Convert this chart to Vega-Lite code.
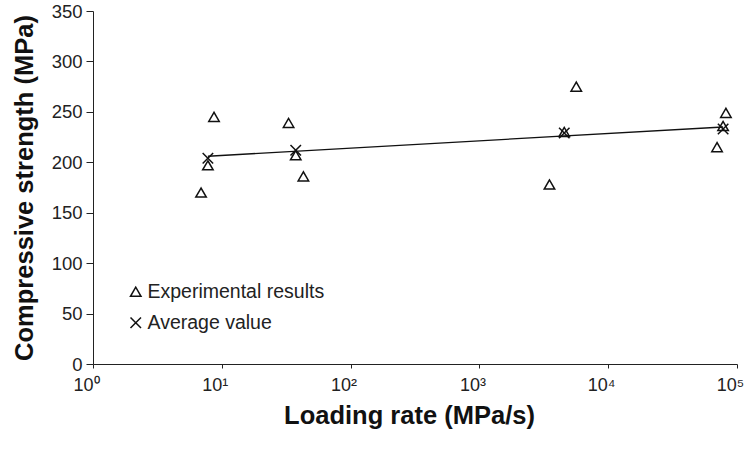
{
  "$schema": "https://vega.github.io/schema/vega-lite/v6.json",
  "autosize": "none",
  "width": 644,
  "height": 353,
  "padding": {"left": 93, "top": 11, "right": 9, "bottom": 87},
  "background": "white",
  "config": {
    "view": {"stroke": null},
    "font": "Liberation Sans",
    "axis": {"grid": false, "domainColor": "#222", "tickColor": "#222", "labelColor": "#222", "titleColor": "#111", "labelFont": "Liberation Sans", "titleFont": "Liberation Sans"}
  },
  "datasets": {
    "points": [
      {"rate": 6.9, "strength": 170, "series": "Experimental results"},
      {"rate": 7.8, "strength": 197, "series": "Experimental results"},
      {"rate": 8.7, "strength": 245, "series": "Experimental results"},
      {"rate": 33, "strength": 239, "series": "Experimental results"},
      {"rate": 37.5, "strength": 207, "series": "Experimental results"},
      {"rate": 43, "strength": 186, "series": "Experimental results"},
      {"rate": 3500, "strength": 178, "series": "Experimental results"},
      {"rate": 4560, "strength": 230, "series": "Experimental results"},
      {"rate": 5650, "strength": 275, "series": "Experimental results"},
      {"rate": 70000, "strength": 215, "series": "Experimental results"},
      {"rate": 78000, "strength": 236, "series": "Experimental results"},
      {"rate": 82000, "strength": 249, "series": "Experimental results"},
      {"rate": 7.8, "strength": 204, "series": "Average value"},
      {"rate": 37.5, "strength": 212, "series": "Average value"},
      {"rate": 4560, "strength": 229, "series": "Average value"},
      {"rate": 78000, "strength": 233, "series": "Average value"}
    ],
    "fit": [
      {"rate": 7.8, "strength": 206},
      {"rate": 78000, "strength": 235}
    ]
  },
  "layer": [
    {
      "data": {"name": "fit"},
      "mark": {"type": "line", "color": "#111", "strokeWidth": 1.3},
      "encoding": {
        "x": {"field": "rate", "type": "quantitative"},
        "y": {"field": "strength", "type": "quantitative"}
      }
    },
    {
      "data": {"name": "points"},
      "mark": {"type": "point", "filled": false, "color": "#111", "strokeWidth": 1.5, "size": 110, "opacity": 1},
      "encoding": {
        "x": {
          "field": "rate", "type": "quantitative",
          "scale": {"type": "log", "domain": [1, 100000], "nice": false},
          "axis": {
            "values": [1, 10, 100, 1000, 10000, 100000],
            "labelExpr": "datum.value == 1 ? '10⁰' : datum.value == 10 ? '10¹' : datum.value == 100 ? '10²' : datum.value == 1000 ? '10³' : datum.value == 10000 ? '10⁴' : '10⁵'",
            "labelFontSize": 18, "labelPadding": 8, "labelOffset": -7, "tickSize": 4, "tickWidth": 1, "labelFlush": false,
            "title": "Loading rate (MPa/s)", "titleFontSize": 25.5, "titleFontWeight": "bold", "titlePadding": 9, "titleX": 316
          }
        },
        "y": {
          "field": "strength", "type": "quantitative",
          "scale": {"domain": [0, 350], "nice": false},
          "axis": {
            "values": [0, 50, 100, 150, 200, 250, 300, 350],
            "labelFontSize": 18.5, "labelPadding": 4, "tickSize": 7, "labelFlush": false,
            "title": "Compressive strength (MPa)", "titleFontSize": 25.5, "titleFontWeight": "bold", "titlePadding": 14
          }
        },
        "shape": {
          "field": "series", "type": "nominal",
          "scale": {"domain": ["Experimental results", "Average value"], "range": ["triangle-up", "M-1,-1L1,1M-1,1L1,-1"]},
          "legend": {
            "orient": "none", "legendX": 33, "legendY": 271, "title": null,
            "labelFontSize": 19.5, "labelLimit": 400, "labelColor": "#222", "symbolStrokeColor": "#111", "symbolFillColor": "transparent",
            "symbolStrokeWidth": 1.5, "symbolSize": 110, "rowPadding": 10, "labelOffset": 2
          }
        }
      }
    }
  ]
}
